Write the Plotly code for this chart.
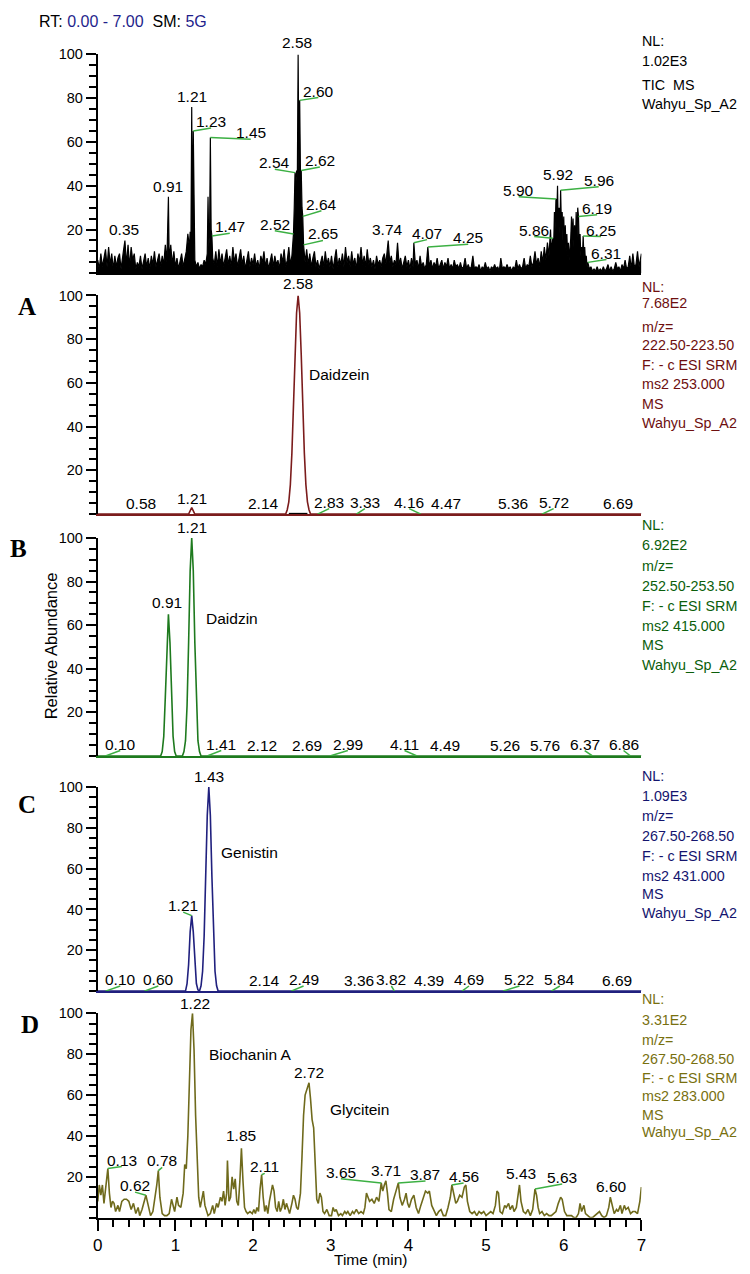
import numpy as np
import plotly.graph_objects as go

# ---------------- data (time in min, relative abundance in %) ----------------
# TIC
tic_t = [0.00, 0.02, 0.04, 0.06, 0.08, 0.10, 0.12, 0.14, 0.16, 0.18,
         0.20, 0.22, 0.24, 0.26, 0.28, 0.30, 0.33, 0.35, 0.37, 0.39,
         0.41, 0.43, 0.45, 0.47, 0.49, 0.51, 0.53, 0.55, 0.57, 0.59,
         0.61, 0.63, 0.65, 0.67, 0.69, 0.71, 0.73, 0.75, 0.77, 0.79,
         0.81, 0.83, 0.85, 0.87, 0.89, 0.91, 0.92, 0.94, 0.96, 0.98,
         1.00, 1.02, 1.04, 1.06, 1.08, 1.10, 1.12, 1.14, 1.16, 1.18,
         1.19, 1.20, 1.21, 1.22, 1.23, 1.24, 1.25, 1.27, 1.29, 1.31,
         1.33, 1.35, 1.37, 1.39, 1.41, 1.42, 1.43, 1.44, 1.45, 1.46,
         1.47, 1.48, 1.50, 1.52, 1.54, 1.56, 1.58, 1.60, 1.62, 1.64,
         1.66, 1.68, 1.70, 1.72, 1.74, 1.76, 1.78, 1.80, 1.82, 1.84,
         1.86, 1.88, 1.90, 1.92, 1.94, 1.96, 1.98, 2.00, 2.02, 2.04,
         2.06, 2.08, 2.10, 2.12, 2.14, 2.16, 2.18, 2.20, 2.22, 2.24,
         2.26, 2.28, 2.30, 2.32, 2.34, 2.36, 2.38, 2.40, 2.42, 2.44,
         2.46, 2.48, 2.50, 2.52, 2.53, 2.54, 2.55, 2.56, 2.57, 2.58,
         2.59, 2.60, 2.61, 2.62, 2.63, 2.64, 2.65, 2.66, 2.67, 2.69,
         2.71, 2.73, 2.75, 2.77, 2.79, 2.81, 2.83, 2.85, 2.87, 2.89,
         2.91, 2.93, 2.95, 2.97, 2.99, 3.01, 3.03, 3.05, 3.07, 3.09,
         3.11, 3.13, 3.15, 3.17, 3.19, 3.21, 3.23, 3.25, 3.27, 3.29,
         3.31, 3.33, 3.35, 3.37, 3.39, 3.41, 3.43, 3.45, 3.47, 3.49,
         3.51, 3.53, 3.55, 3.57, 3.59, 3.61, 3.63, 3.65, 3.67, 3.69,
         3.71, 3.72, 3.74, 3.76, 3.78, 3.80, 3.82, 3.84, 3.86, 3.88,
         3.90, 3.92, 3.94, 3.96, 3.98, 4.00, 4.02, 4.04, 4.06, 4.07,
         4.09, 4.11, 4.13, 4.15, 4.17, 4.19, 4.21, 4.23, 4.25, 4.27,
         4.29, 4.31, 4.33, 4.35, 4.37, 4.39, 4.41, 4.43, 4.45, 4.47,
         4.49, 4.51, 4.53, 4.55, 4.57, 4.59, 4.61, 4.63, 4.65, 4.67,
         4.69, 4.71, 4.73, 4.75, 4.77, 4.79, 4.81, 4.83, 4.85, 4.87,
         4.89, 4.91, 4.93, 4.95, 4.97, 4.99, 5.01, 5.03, 5.05, 5.07,
         5.09, 5.11, 5.13, 5.15, 5.17, 5.19, 5.21, 5.23, 5.25, 5.27,
         5.29, 5.31, 5.33, 5.35, 5.37, 5.39, 5.41, 5.43, 5.45, 5.47,
         5.49, 5.51, 5.53, 5.55, 5.57, 5.59, 5.61, 5.63, 5.65, 5.67,
         5.69, 5.71, 5.73, 5.75, 5.77, 5.79, 5.81, 5.83, 5.84, 5.85,
         5.86, 5.87, 5.88, 5.89, 5.90, 5.91, 5.92, 5.93, 5.94, 5.95,
         5.96, 5.97, 5.98, 5.99, 6.00, 6.01, 6.02, 6.03, 6.04, 6.05,
         6.06, 6.07, 6.08, 6.09, 6.10, 6.11, 6.12, 6.13, 6.14, 6.15,
         6.16, 6.17, 6.18, 6.19, 6.20, 6.21, 6.22, 6.23, 6.24, 6.25,
         6.26, 6.27, 6.28, 6.29, 6.30, 6.31, 6.33, 6.35, 6.37, 6.39,
         6.41, 6.43, 6.45, 6.47, 6.49, 6.51, 6.53, 6.55, 6.57, 6.59,
         6.61, 6.63, 6.65, 6.67, 6.69, 6.71, 6.73, 6.75, 6.77, 6.79,
         6.81, 6.83, 6.85, 6.87, 6.89, 6.91, 6.93, 6.95, 6.97, 7.00]
tic_i = [6, 2, 9, 3, 7, 11, 3, 12, 4, 9,
         2, 8, 3, 7, 9, 2, 10, 15, 4, 13,
         3, 12, 6, 9, 2, 5, 3, 8, 2, 6,
         9, 3, 7, 2, 8, 4, 10, 3, 6, 9,
         3, 8, 4, 13, 5, 35, 6, 13, 4, 10,
         3, 7, 2, 6, 9, 3, 6, 10, 18, 12,
         19, 14, 76, 18, 65, 12, 6, 3, 5, 2,
         4, 3, 6, 4, 9, 35, 12, 18, 62, 20,
         17, 7, 4, 10, 3, 11, 4, 9, 3, 7,
         11, 4, 8, 3, 12, 5, 9, 3, 7, 11,
         4, 8, 2, 6, 10, 3, 7, 4, 9, 3,
         6, 2, 8, 5, 10, 3, 7, 2, 6, 9,
         3, 8, 4, 6, 2, 9, 5, 11, 3, 6,
         12, 4, 8, 18, 30, 46, 40, 47, 44, 100,
         47, 79, 46, 47, 30, 26, 13, 10, 5, 11,
         4, 9, 3, 7, 10, 3, 6, 2, 5, 8,
         3, 10, 4, 7, 3, 8, 2, 6, 11, 3,
         7, 4, 9, 3, 12, 5, 8, 3, 10, 4,
         7, 2, 9, 5, 12, 4, 8, 3, 11, 4,
         7, 3, 6, 2, 8, 4, 6, 3, 7, 9,
         4, 8, 15, 5, 8, 3, 6, 4, 14, 4,
         7, 2, 5, 8, 3, 6, 2, 7, 3, 14,
         4, 6, 2, 8, 3, 5, 2, 4, 12, 3,
         6, 2, 5, 3, 7, 2, 4, 6, 2, 5,
         3, 7, 2, 4, 2, 6, 3, 4, 2, 5,
         2, 3, 7, 2, 4, 2, 3, 8, 2, 3,
         2, 4, 1, 3, 2, 5, 2, 3, 1, 3,
         2, 4, 2, 3, 1, 7, 2, 3, 2, 4,
         2, 3, 1, 3, 2, 6, 2, 4, 2, 3,
         7, 2, 4, 3, 8, 3, 5, 10, 4, 7,
         3, 10, 5, 12, 6, 14, 8, 20, 10, 14,
         16, 12, 28, 20, 34, 25, 40, 20, 30, 18,
         38, 22, 28, 15, 26, 12, 22, 10, 18, 8,
         14, 6, 10, 16, 26, 14, 25, 12, 22, 10,
         28, 15, 30, 26, 12, 18, 8, 12, 6, 17,
         8, 12, 5, 8, 3, 5, 2, 3, 1, 2,
         1, 3, 1, 2, 1, 3, 1, 2, 4, 1,
         3, 1, 2, 5, 2, 3, 1, 4, 2, 6,
         2, 3, 8, 2, 9, 3, 4, 10, 3, 9]
tic_rt = [0.35, 0.91, 1.21, 1.23, 1.45, 1.47, 2.52, 2.54, 2.58, 2.60, 2.62, 2.64, 2.65,
          3.74, 4.07, 4.25, 5.86, 5.90, 5.92, 5.96, 6.19, 6.25, 6.31]

# A  m/z 222.50-223.50 (Daidzein)
a_t = [0.00, 1.17, 1.21, 1.25, 2.42, 2.44, 2.46, 2.48, 2.50, 2.52, 2.54, 2.56, 2.58,
       2.60, 2.62, 2.64, 2.66, 2.68, 2.70, 2.72, 2.74, 7.00]
a_i = [0, 0, 3, 0, 0, 2, 5.6, 13.5, 28, 49, 73, 92, 100,
       92, 73, 49, 28, 13.5, 5.6, 2, 0, 0]
a_rt = [0.58, 1.21, 2.14, 2.58, 2.83, 3.33, 4.16, 4.47, 5.36, 5.72, 6.69]

# B  m/z 252.50-253.50 (Daidzin)
b_t = [0.00, 0.81, 0.83, 0.85, 0.87, 0.89, 0.91, 0.93, 0.95, 0.97, 0.99, 1.01,
       1.09, 1.11, 1.13, 1.15, 1.17, 1.19, 1.21, 1.23, 1.25, 1.27, 1.29, 1.31, 1.33, 7.00]
b_i = [0, 0, 2, 9, 27, 52, 65, 52, 27, 9, 2, 0,
       0, 2, 7, 23, 52, 85, 100, 85, 52, 23, 7, 2, 0, 0]
b_rt = [0.10, 0.91, 1.21, 1.41, 2.12, 2.69, 2.99, 4.11, 4.49, 5.26, 5.76, 6.37, 6.86]

# C  m/z 267.50-268.50 (Genistin)
c_t = [0.00, 1.13, 1.15, 1.17, 1.19, 1.21, 1.23, 1.25, 1.27, 1.29, 1.31,
       1.33, 1.35, 1.37, 1.39, 1.41, 1.43, 1.45, 1.47, 1.49, 1.51, 1.53, 1.55, 7.00]
c_i = [0, 0, 3.7, 13, 29, 37, 29, 13, 3.7, 0.6, 0,
       2.6, 9.7, 27, 56, 86, 100, 86, 56, 27, 9.7, 2.6, 0, 0]
c_rt = [0.10, 0.60, 1.21, 1.43, 2.14, 2.49, 3.36, 3.82, 4.39, 4.69, 5.22, 5.84, 6.69]

# D  m/z 267.50-268.50 (Biochanin A, Glycitein)
d_t = [0.00, 0.02, 0.04, 0.06, 0.08, 0.10, 0.13, 0.15, 0.17, 0.19,
       0.21, 0.23, 0.26, 0.28, 0.31, 0.34, 0.37, 0.40, 0.43, 0.46,
       0.49, 0.52, 0.54, 0.57, 0.60, 0.62, 0.65, 0.68, 0.71, 0.74,
       0.76, 0.78, 0.80, 0.83, 0.86, 0.89, 0.92, 0.95, 0.97, 0.99,
       1.02, 1.04, 1.07, 1.10, 1.12, 1.14, 1.16, 1.18, 1.20, 1.22,
       1.24, 1.26, 1.28, 1.30, 1.32, 1.34, 1.36, 1.38, 1.40, 1.42,
       1.45, 1.48, 1.50, 1.53, 1.55, 1.58, 1.60, 1.62, 1.64, 1.66,
       1.67, 1.69, 1.71, 1.73, 1.75, 1.77, 1.79, 1.81, 1.83, 1.85,
       1.87, 1.89, 1.91, 1.93, 1.96, 1.99, 2.01, 2.03, 2.05, 2.07,
       2.09, 2.11, 2.13, 2.15, 2.17, 2.19, 2.21, 2.23, 2.25, 2.27,
       2.29, 2.31, 2.33, 2.35, 2.37, 2.39, 2.41, 2.43, 2.45, 2.47,
       2.50, 2.52, 2.54, 2.56, 2.58, 2.61, 2.63, 2.65, 2.67, 2.69,
       2.71, 2.72, 2.74, 2.76, 2.78, 2.80, 2.82, 2.84, 2.86, 2.88,
       2.90, 2.92, 2.95, 2.98, 3.01, 3.03, 3.05, 3.07, 3.10, 3.13,
       3.15, 3.18, 3.20, 3.22, 3.25, 3.28, 3.30, 3.33, 3.36, 3.39,
       3.42, 3.44, 3.46, 3.48, 3.50, 3.53, 3.56, 3.59, 3.62, 3.65,
       3.67, 3.69, 3.71, 3.73, 3.75, 3.78, 3.81, 3.84, 3.87, 3.89,
       3.92, 3.95, 3.97, 3.99, 4.01, 4.04, 4.07, 4.10, 4.13, 4.16,
       4.19, 4.22, 4.25, 4.27, 4.30, 4.33, 4.36, 4.39, 4.42, 4.45,
       4.48, 4.51, 4.54, 4.56, 4.58, 4.61, 4.63, 4.66, 4.69, 4.72,
       4.74, 4.76, 4.79, 4.82, 4.85, 4.88, 4.91, 4.94, 4.97, 5.00,
       5.03, 5.06, 5.09, 5.12, 5.14, 5.16, 5.18, 5.21, 5.24, 5.26,
       5.29, 5.31, 5.34, 5.36, 5.39, 5.41, 5.43, 5.45, 5.48, 5.51,
       5.54, 5.57, 5.60, 5.63, 5.65, 5.67, 5.69, 5.72, 5.75, 5.78,
       5.81, 5.84, 5.87, 5.90, 5.93, 5.96, 5.98, 6.01, 6.04, 6.07,
       6.10, 6.13, 6.16, 6.19, 6.21, 6.23, 6.26, 6.28, 6.31, 6.34,
       6.37, 6.40, 6.43, 6.46, 6.49, 6.52, 6.55, 6.58, 6.60, 6.62,
       6.65, 6.68, 6.70, 6.73, 6.75, 6.78, 6.80, 6.83, 6.86, 6.89,
       6.92, 6.95, 6.98, 7.00]
d_i = [8, 16, 11, 16, 7, 14, 24, 12, 5, 8,
       7, 3, 6, 3, 8, 9, 9, 8, 4, 7,
       2, 5, 1, 4, 8, 11, 6, 1, 3, 10,
       16, 23, 10, 2, 1, 1, 2, 9, 6, 3,
       10, 6, 5, 12, 26, 24, 40, 70, 92, 100,
       82, 50, 24, 10, 5, 9, 13, 6, 3, 1,
       2, 6, 2, 7, 5, 10, 8, 13, 6, 12,
       28, 8, 10, 20, 14, 19, 8, 6, 18, 34,
       18, 5, 3, 2, 3, 2, 4, 2, 5, 3,
       14, 21, 10, 3, 6, 2, 8, 13, 16, 13,
       5, 3, 8, 3, 5, 9, 4, 7, 4, 2,
       7, 11, 9, 5, 4, 12, 30, 50, 60, 62,
       65, 66, 58, 48, 44, 22, 9, 7, 12, 10,
       3, 2, 4, 1, 1, 5, 3, 4, 1, 2,
       1, 3, 2, 3, 1, 3, 2, 4, 2, 3,
       2, 5, 12, 10, 8, 9, 7, 10, 8, 17,
       13, 16, 18, 12, 4, 3, 9, 13, 17, 10,
       6, 9, 12, 7, 5, 9, 11, 5, 2, 6,
       9, 13, 12, 13, 6, 3, 1, 3, 4, 1,
       1, 5, 10, 16, 12, 7, 8, 11, 10, 15,
       16, 8, 3, 2, 3, 1, 3, 2, 3, 1,
       2, 3, 2, 6, 13, 12, 3, 2, 6, 5,
       7, 4, 6, 3, 5, 11, 16, 8, 3, 2,
       4, 1, 4, 14, 11, 5, 2, 3, 1, 2,
       1, 1, 2, 3, 7, 10, 9, 3, 1, 1,
       1, 0, 0, 2, 7, 3, 6, 2, 1, 0,
       0, 1, 2, 3, 1, 0, 1, 5, 10, 7,
       2, 4, 3, 6, 2, 6, 4, 5, 2, 3,
       3, 2, 8, 15]
d_rt = [0.13, 0.62, 0.78, 1.22, 1.85, 2.11, 2.72, 3.65, 3.71, 3.87, 4.56, 5.43, 5.63, 6.60]

# ---------------- layout helpers ----------------
W, H = 750, 1274
FONT = "Liberation Sans, Arial, sans-serif"
LEADER = "#3cb043"


def fx(p):
    return p / W


def fy(p):
    return 1 - p / H


X_LEFT, X_RIGHT = 94, 645

panels = [
    dict(t=tic_t, i=tic_i, rt=tic_rt, line="#000000", text="#000000", top=46.7, bot=267.0, fill=True),
    dict(t=a_t, i=a_i, rt=a_rt, line="#7b1c1c", text="#6e0f0f", top=289.3, bot=509.3, fill=False),
    dict(t=b_t, i=b_i, rt=b_rt, line="#1e7a1e", text="#0b5e0b", top=533.3, bot=752.7, fill=False),
    dict(t=c_t, i=c_i, rt=c_rt, line="#20207e", text="#14146e", top=784.0, bot=989.3, fill=False),
    dict(t=d_t, i=d_i, rt=d_rt, line="#6f6a1c", text="#78700f", top=1011.7, bot=1217.3, fill=False),
]

# label spots: text-bottom-centre (min, %), and whether a green leader is drawn
label_spots = [
    [(0.34, 17, 0), (0.90, 36.5, 0), (1.21, 78, 0), (1.46, 66.4, 1), (1.97, 61.2, 1), (1.70, 18.3, 1),
     (2.28, 19.5, 1), (2.28, 47.5, 1), (2.57, 102.5, 0), (2.84, 80.3, 1), (2.86, 48.6, 1), (2.88, 28.6, 1),
     (2.90, 15.0, 1), (3.73, 17, 0), (4.24, 15.4, 1), (4.77, 13.3, 1), (5.62, 16.8, 1), (5.42, 35, 1),
     (5.93, 42, 0), (6.45, 39.5, 1), (6.43, 26.8, 1), (6.48, 16.8, 1), (6.55, 6.3, 1)],
    [(0.56, 2, 0), (1.21, 4, 0), (2.13, 2, 0), (2.58, 102.5, 0), (2.98, 2.5, 1), (3.44, 2.5, 1),
     (4.01, 2.5, 1), (4.49, 2, 0), (5.35, 2, 0), (5.87, 2.5, 1), (6.70, 2, 0)],
    [(0.29, 2.5, 1), (0.89, 67.5, 0), (1.21, 102, 0), (1.59, 2.5, 1), (2.12, 2, 0), (2.69, 2, 0),
     (3.22, 2.5, 1), (3.95, 2.5, 1), (4.47, 2, 0), (5.25, 2, 0), (5.76, 2, 0), (6.27, 2.5, 1), (6.77, 2.5, 1)],
    [(0.29, 2.5, 1), (0.78, 2.5, 1), (1.10, 38.7, 1), (1.43, 102, 0), (2.15, 2, 0), (2.65, 2.5, 1),
     (3.37, 2, 0), (3.78, 2.5, 1), (4.27, 2, 0), (4.78, 2.5, 1), (5.43, 2.5, 1), (5.95, 2.5, 1), (6.69, 2, 0)],
    [(0.31, 25, 1), (0.48, 12.5, 1), (0.83, 24.6, 1), (1.25, 101.7, 0), (1.85, 37, 0), (2.15, 21.7, 1),
     (2.72, 67.7, 0), (3.13, 19, 1), (3.71, 19.7, 0), (4.22, 18, 1), (4.71, 17, 1), (5.45, 18.5, 0),
     (5.98, 16.5, 1), (6.62, 12, 0)],
]

compound_names = [
    [],
    [("Daidzein", 2.69, 64)],
    [("Daidzin", 1.37, 63)],
    [("Genistin", 1.56, 68)],
    [("Biochanin A", 1.41, 80), ("Glycitein", 2.96, 53)],
]

info_lines = [
    ["NL:", "1.02E3", "TIC\u00a0 MS", "Wahyu_Sp_A2"],
    ["NL:", "7.68E2", "m/z=", "222.50-223.50", "F: - c ESI SRM", "ms2 253.000", "MS", "Wahyu_Sp_A2"],
    ["NL:", "6.92E2", "m/z=", "252.50-253.50", "F: - c ESI SRM", "ms2 415.000", "MS", "Wahyu_Sp_A2"],
    ["NL:", "1.09E3", "m/z=", "267.50-268.50", "F: - c ESI SRM", "ms2 431.000", "MS", "Wahyu_Sp_A2"],
    ["NL:", "3.31E2", "m/z=", "267.50-268.50", "F: - c ESI SRM", "ms2 283.000", "MS", "Wahyu_Sp_A2"],
]
info_y = [
    [33, 53, 77, 97],
    [280.7, 297.3, 321, 339.5, 359.5, 378.8, 398.5, 417.5],
    [520.7, 540, 561.7, 581.7, 601.7, 621.7, 641, 660.7],
    [773.3, 792.7, 813.3, 833.3, 853.3, 873.3, 891.7, 910.5],
    [997.3, 1018.3, 1039, 1057.5, 1076.5, 1095, 1113.5, 1131.5],
]

fig = go.Figure()
layout = dict(width=W, height=H, margin=dict(l=0, r=0, t=0, b=0, pad=0),
              paper_bgcolor="white", plot_bgcolor="white", showlegend=False,
              font=dict(family=FONT, color="black"))
annotations = []
shapes = []

for k, p in enumerate(panels):
    n = "" if k == 0 else str(k + 1)
    xa, ya = "x" + n, "y" + n
    last = k == len(panels) - 1
    px_per_pct = (p["bot"] - p["top"]) / 100.0

    fig.add_trace(go.Scatter(
        x=p["t"], y=p["i"], mode="lines", xaxis=xa, yaxis=ya,
        line=dict(color=p["line"], width=1.2 if p["fill"] else 1.6),
        fill="tozeroy" if p["fill"] else None,
        fillcolor="black" if p["fill"] else None,
        hoverinfo="skip"))

    xaxis = dict(domain=[fx(X_LEFT), fx(X_RIGHT)], range=[0, 7], anchor=ya,
                 showline=True, linewidth=2,
                 linecolor="black" if (p["fill"] or last) else p["line"],
                 showgrid=False, zeroline=False, fixedrange=True)
    if last:
        xaxis.update(tickmode="array", tickvals=list(range(8)), ticktext=[str(v) for v in range(8)],
                     ticks="outside", ticklen=11, tickwidth=2, tickcolor="black",
                     tickfont=dict(size=17, family=FONT, color="black"),
                     minor=dict(ticks="outside", ticklen=7, tickwidth=1.5, tickcolor="black",
                                tickmode="linear", tick0=0, dtick=0.2))
    else:
        xaxis.update(showticklabels=False, ticks="")
    yaxis = dict(domain=[fy(p["bot"]), fy(p["top"])], range=[0, 100], anchor=xa,
                 showline=True, linewidth=2, linecolor="black",
                 tickmode="array", tickvals=[20, 40, 60, 80, 100],
                 ticks="outside", ticklen=10, tickwidth=2, tickcolor="black",
                 tickfont=dict(size=14.5, family=FONT, color="black"),
                 minor=dict(ticks="outside", ticklen=7, tickwidth=1.5, tickcolor="black",
                            tickmode="linear", tick0=0, dtick=5),
                 showgrid=False, zeroline=False, fixedrange=True)
    layout["xaxis" + n] = xaxis
    layout["yaxis" + n] = yaxis

    # peak retention-time labels
    for rt, (lx, ly, lead) in zip(p["rt"], label_spots[k]):
        h = float(np.interp(rt, p["t"], p["i"]))
        if lead:
            shapes.append(dict(type="line", xref=xa, yref=ya, x0=rt, y0=h, x1=lx, y1=ly,
                               line=dict(color=LEADER, width=1.5), layer="above"))
        # labels above the 100 % line are pinned to 100 and lifted in pixels (plotly hides off-range notes)
        yy = min(ly, 100)
        lift = (ly - yy) * px_per_pct
        annotations.append(dict(x=lx, y=yy, xref=xa, yref=ya, text=f"{rt:.2f}", showarrow=False,
                                xanchor="center", yanchor="bottom", yshift=-4 + lift,
                                font=dict(size=15.5, family=FONT, color="black")))

    for name, lx, ly in compound_names[k]:
        annotations.append(dict(x=lx, y=ly, xref=xa, yref=ya, text=name, showarrow=False,
                                xanchor="left", yanchor="middle",
                                font=dict(size=15.5, family=FONT, color="black")))

    for txt, yy in zip(info_lines[k], info_y[k]):
        annotations.append(dict(x=fx(X_RIGHT - 1), y=fy(yy), xref="paper", yref="paper", text=txt,
                                showarrow=False, xanchor="left", yanchor="middle",
                                font=dict(size=14.3, family=FONT, color=p["text"])))

# black integration baseline under the Daidzein peak
seg = [t for t, v in zip(a_t, a_i) if v > 3 and 2.3 < t < 2.9]
shapes.append(dict(type="line", xref="x2", yref="y2", x0=min(seg), x1=max(seg), y0=0, y1=0,
                   line=dict(color="black", width=2.5), layer="above"))

# panel letters
for letter, lx, ly in [("A", 22, 300.5), ("B", 13.5, 544), ("C", 22, 802), ("D", 25, 1023)]:
    annotations.append(dict(x=fx(lx), y=fy(ly), xref="paper", yref="paper", text=f"<b>{letter}</b>",
                            showarrow=False, xanchor="center", yanchor="middle",
                            font=dict(size=25, family="Liberation Serif, Times New Roman, serif",
                                      color="black")))

annotations.append(dict(x=fx(32), y=fy(14), xref="paper", yref="paper", showarrow=False,
                        xanchor="left", yanchor="middle",
                        text="RT: <span style='color:#1f1f8c'>0.00 - 7.00</span>\u00a0\u00a0"
                             "SM: <span style='color:#1f1f8c'>5G</span>",
                        font=dict(size=16, family=FONT, color="black")))
annotations.append(dict(x=fx(47), y=fy(642), xref="paper", yref="paper", showarrow=False,
                        text="Relative Abundance", textangle=-90, xanchor="center", yanchor="middle",
                        font=dict(size=16.5, family=FONT, color="black")))
annotations.append(dict(x=fx(370), y=fy(1259), xref="paper", yref="paper", showarrow=False,
                        text="Time (min)", xanchor="center", yanchor="middle",
                        font=dict(size=15.5, family=FONT, color="black")))

layout["annotations"] = annotations
layout["shapes"] = shapes
fig.update_layout(**layout)

fig.write_html("out.html", config={"displayModeBar": False},
               post_script="document.body.style.margin='0px';document.body.style.overflow='hidden';")
